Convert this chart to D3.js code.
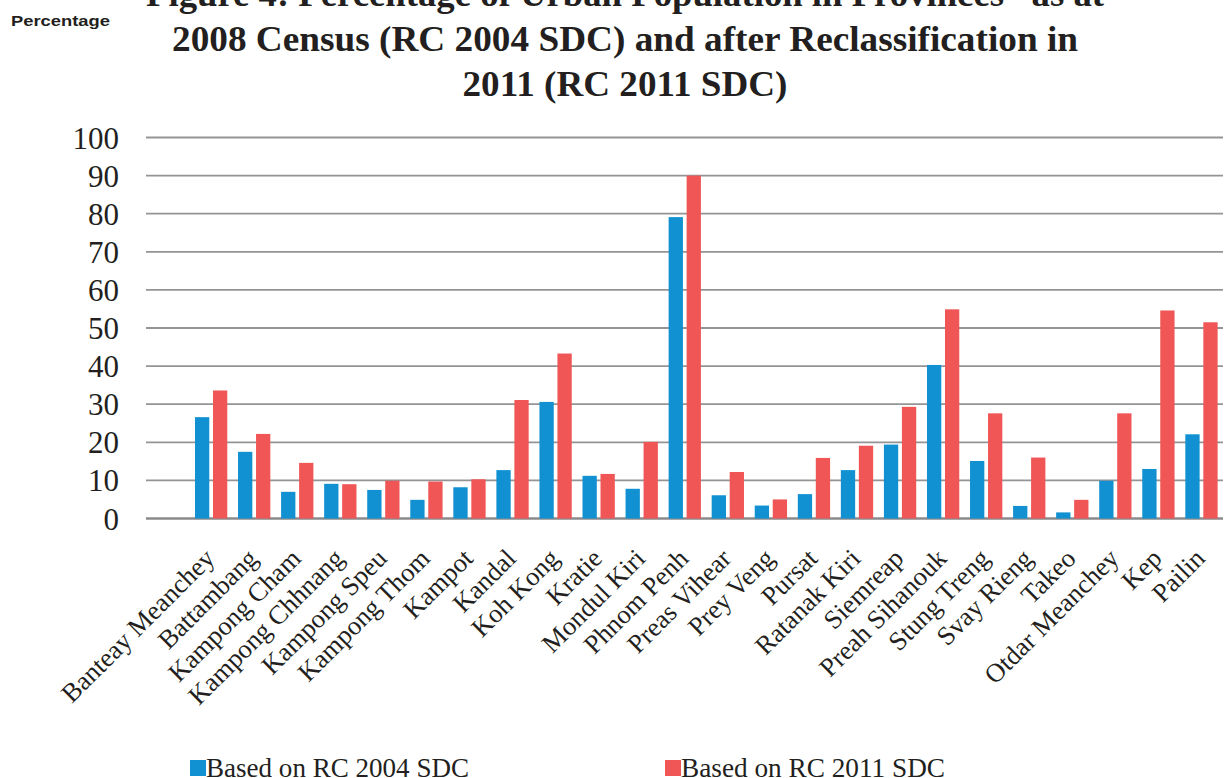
<!DOCTYPE html>
<html>
<head>
<meta charset="utf-8">
<script src="https://cdn.jsdelivr.net/npm/d3@7"></script>
<style>
  html, body { margin: 0; padding: 0; background: #fff; }
  svg { display: block; }
</style>
</head>
<body>
<svg id="chart" width="1226" height="778"></svg>
<script>
const categories = ["Banteay Meanchey","Battambang","Kampong Cham","Kampong Chhnang","Kampong Speu","Kampong Thom","Kampot","Kandal","Koh Kong","Kratie","Mondul Kiri","Phnom Penh","Preas Vihear","Prey Veng","Pursat","Ratanak Kiri","Siemreap","Preah Sihanouk","Stung Treng","Svay Rieng","Takeo","Otdar Meanchey","Kep","Pailin"];
const rc2004 = [26.6,17.5,7.0,9.1,7.5,4.9,8.2,12.7,30.6,11.2,7.8,79.1,6.1,3.4,6.4,12.7,19.4,40.3,15.1,3.3,1.6,9.9,13.0,22.1];
const rc2011 = [33.6,22.2,14.6,9.0,9.9,9.7,10.3,31.1,43.3,11.7,20.1,90.0,12.2,5.0,15.9,19.1,29.3,54.9,27.6,16.0,4.9,27.6,54.6,51.5];
const seriesNames = ["Based on RC 2004 SDC","Based on RC 2011 SDC"];
const seriesColors = ["#1191d1","#f05656"];
const yTicks = [0,10,20,30,40,50,60,70,80,90,100];
const titleLines = ["Figure 4: Percentage of Urban Population in Provinces* as at","2008 Census (RC 2004 SDC) and after Reclassification in","2011 (RC 2011 SDC)"];

const svg = d3.select("#chart");
const serif = "'Liberation Serif','Times New Roman',serif";
const textColor = "#231f20";

const y = d3.scaleLinear().domain([0,100]).range([518.5,137.5]);
const x0 = d3.scaleBand().domain(categories).range([189.6,1223]).paddingInner(0.25).paddingOuter(0.125);
const x1 = d3.scaleBand().domain([0,1]).range([0,x0.bandwidth()]).paddingInner(0.206);

// gridlines
const grid = svg.append("g");
grid.selectAll("line").data(yTicks).join("line")
  .attr("x1",146).attr("x2",1223)
  .attr("y1",d=>y(d)).attr("y2",d=>y(d))
  .attr("stroke",d=>d===0?"#8a8a8c":"#949496")
  .attr("stroke-width",d=>d===0?2.4:1.8);

// y axis labels via d3 axis
const yAxis = d3.axisLeft(y).tickValues(yTicks).tickSize(0).tickPadding(0);
const ya = svg.append("g").attr("transform","translate(119,0)").call(yAxis);
ya.select(".domain").remove();
ya.selectAll("text").attr("font-family",serif).attr("font-size",31).attr("fill",textColor).attr("dy","0.34em");

// bars
const groups = svg.append("g").selectAll("g").data(categories).join("g")
  .attr("transform",d=>`translate(${x0(d)},0)`);
groups.selectAll("rect").data((d,i)=>[rc2004[i],rc2011[i]]).join("rect")
  .attr("x",(d,j)=>x1(j))
  .attr("width",x1.bandwidth())
  .attr("y",d=>y(d))
  .attr("height",d=>y(0)-y(d))
  .attr("fill",(d,j)=>seriesColors[j]);

// x labels
svg.append("g").selectAll("text").data(categories).join("text")
  .attr("transform",d=>`translate(${x0(d)+x0.bandwidth()/2+5},560) rotate(-45)`)
  .attr("text-anchor","end")
  .attr("font-family",serif).attr("font-size",26.5).attr("fill",textColor)
  .text(d=>d);

// title
const tBase = [6,51,96];
const tLen = [958,906,325];
svg.append("g").selectAll("text").data(titleLines).join("text")
  .attr("x",625).attr("y",(d,i)=>tBase[i])
  .attr("text-anchor","middle")
  .attr("font-family",serif).attr("font-weight","bold").attr("font-size",36)
  .attr("fill",textColor)
  .attr("textLength",(d,i)=>tLen[i]).attr("lengthAdjust","spacingAndGlyphs")
  .text(d=>d);

// axis title
svg.append("text").attr("x",11).attr("y",26)
  .attr("font-family","'Liberation Sans',Arial,sans-serif").attr("font-weight","bold")
  .attr("font-size",15.5).attr("fill",textColor)
  .attr("textLength",99).attr("lengthAdjust","spacingAndGlyphs")
  .text("Percentage");

// legend
const legX = [190,665];
const leg = svg.append("g").selectAll("g").data(seriesNames).join("g")
  .attr("transform",(d,i)=>`translate(${legX[i]},0)`);
leg.append("rect").attr("x",0).attr("y",760).attr("width",16).attr("height",16)
  .attr("fill",(d,i)=>seriesColors[i]);
leg.append("text").attr("x",16).attr("y",776.5)
  .attr("font-family",serif).attr("font-size",28).attr("fill",textColor)
  .attr("textLength",(d,i)=>i===0?263:264).attr("lengthAdjust","spacingAndGlyphs")
  .text(d=>d);
</script>
</body>
</html>
